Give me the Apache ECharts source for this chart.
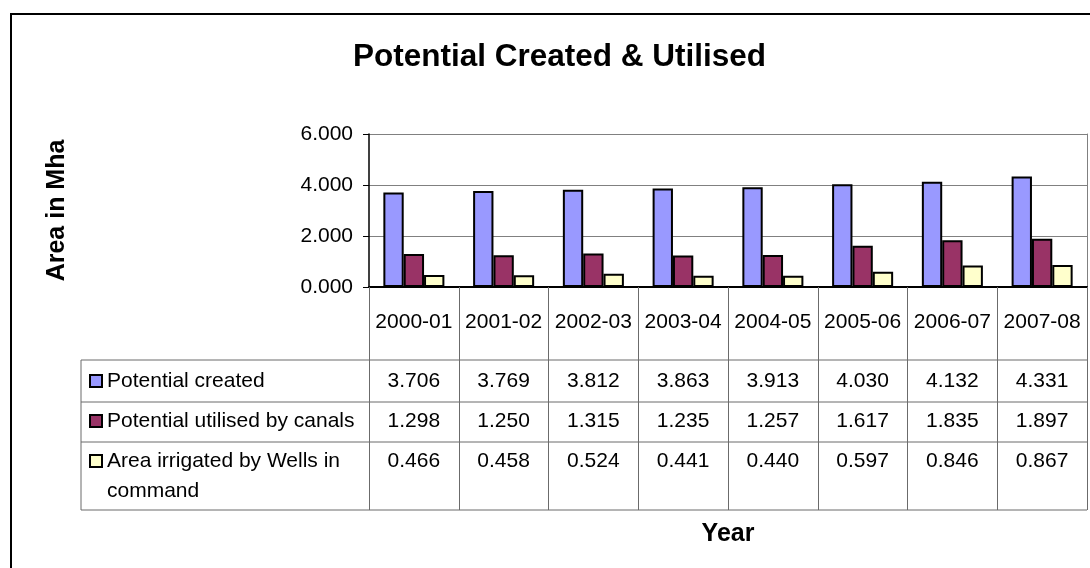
<!DOCTYPE html>
<html><head><meta charset="utf-8">
<script src="https://cdn.jsdelivr.net/npm/echarts@6/dist/echarts.min.js"></script>
<style>html,body{margin:0;padding:0;background:#fff}#c{width:1090px;height:568px}</style>
</head><body><div id="c"></div>
<script>
const categories = ['2000-01','2001-02','2002-03','2003-04','2004-05','2005-06','2006-07','2007-08'];
const potentialCreated = [3.706,3.769,3.812,3.863,3.913,4.030,4.132,4.331];
const utilisedByCanals = [1.298,1.250,1.315,1.235,1.257,1.617,1.835,1.897];
const wellsInCommand = [0.466,0.458,0.524,0.441,0.440,0.597,0.846,0.867];
const seriesNames = ['Potential created','Potential utilised by canals','Area irrigated by Wells in command'];
const seriesColors = ['#9999FF','#993366','#FFFFCC'];
const yMin = 0, yMax = 6, yStep = 2;

const FONT = 'Arial, "Liberation Sans", sans-serif';
const FS = 21;
const allValues = [potentialCreated, utilisedByCanals, wellsInCommand];
const rowOffsets = [84, 124, 164];
const tableLine = '#6b6b6b';

const chart = echarts.init(document.getElementById('c'), null, {renderer:'canvas'});

const xAxes = [{
  type:'category', data: categories, gridIndex:0, position:'bottom',
  axisLine:{show:true, lineStyle:{color:'#000', width:2}},
  axisTick:{show:true, interval:0, alignWithLabel:false, length:223, lineStyle:{color:tableLine, width:1}},
  axisLabel:{interval:0, margin:25, color:'#000', fontSize:FS, fontFamily:FONT},
  name:'Year', nameLocation:'middle', nameGap:235,
  nameTextStyle:{fontSize:25, fontWeight:'bold', fontFamily:FONT, color:'#000'}
}];
allValues.forEach((vals, i) => {
  xAxes.push({
    type:'category', data: categories, gridIndex:0, position:'bottom', offset: rowOffsets[i],
    axisLine:{show:false}, axisTick:{show:false},
    axisLabel:{interval:0, margin:0, color:'#000', fontSize:FS, fontFamily:FONT,
      formatter:(v, idx) => vals[idx].toFixed(3)}
  });
});

const legends = seriesNames.map((n, i) => ({
  data:[n], orient:'vertical', left:89, top:[370, 410, 416][i], padding:0,
  icon:'rect', itemWidth:12, itemHeight:12,
  textStyle:{fontSize:FS, fontFamily:FONT, color:'#000', lineHeight: i===2 ? 30 : 22},
  formatter: i===2 ? (name => '\nArea irrigated by Wells in\ncommand') : undefined,
  selectedMode:false
}));

const option = {
  backgroundColor:'#fff',
  animation:false,
  title:{text:'Potential Created & Utilised', left:348, top:36,
    textStyle:{fontSize:31.5, fontWeight:'bold', fontFamily:FONT, color:'#000'}},
  legend: legends,
  grid:{left:369, right:3, top:134, bottom:281, containLabel:false},
  xAxis: xAxes,
  yAxis:[{
    type:'value', min:yMin, max:yMax, interval:yStep,
    axisLine:{show:true, lineStyle:{color:'#000', width:1.5}},
    axisTick:{show:true, length:6, lineStyle:{color:'#000'}},
    axisLabel:{margin:16, color:'#000', fontSize:FS, fontFamily:FONT, formatter:v => v.toFixed(3)},
    splitLine:{show:true, lineStyle:{color:'#808080', width:1}},
    name:'Area in Mha', nameLocation:'middle', nameGap:299, nameRotate:90,
    nameTextStyle:{fontSize:25, fontWeight:'bold', fontFamily:FONT, color:'#000'}
  },{
    type:'value', min:yMin, max:yMax, interval:yStep, position:'right',
    axisLine:{show:true, lineStyle:{color:'#808080', width:1}},
    axisTick:{show:false}, axisLabel:{show:false}, splitLine:{show:false}
  }],
  series: allValues.map((vals, i) => ({
    name: seriesNames[i], type:'bar', data: vals, xAxisIndex:0, yAxisIndex:0,
    barGap:'0%', barCategoryGap:'32%',
    itemStyle:{color: seriesColors[i], borderColor:'#000', borderWidth:2}
  })),
  graphic:[
    {type:'rect', shape:{x:11, y:14, width:1200, height:700}, style:{fill:'none', stroke:'#000', lineWidth:2}, silent:true},
    ...[360, 402, 442, 510].map(y => ({type:'line', shape:{x1:81, y1:y, x2:1087, y2:y}, style:{stroke:tableLine, lineWidth:1}, silent:true})),
    {type:'line', shape:{x1:81, y1:360, x2:81, y2:510}, style:{stroke:tableLine, lineWidth:1}, silent:true}
  ]
};
chart.setOption(option);
</script></body></html>
